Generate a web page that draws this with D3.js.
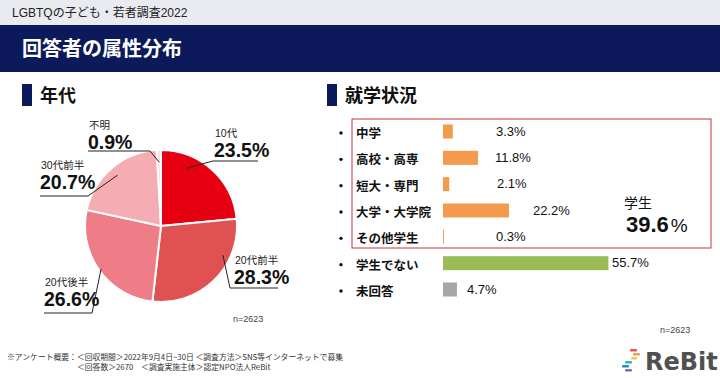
<!DOCTYPE html>
<html><head><meta charset="utf-8">
<script src="https://cdn.jsdelivr.net/npm/d3@7"></script>
<style>
html,body{margin:0;padding:0;background:#fff;}
svg{display:block;font-family:"Liberation Sans","Noto Sans CJK JP",sans-serif;}
</style></head>
<body>
<svg id="c" width="720" height="378"></svg>
<script>
// ---------- data ----------
const ageCategories = ["10代", "20代前半", "20代後半", "30代前半", "不明"];
const ageValues = [23.5, 28.3, 26.6, 20.7, 0.9];
const ageColors = ["#e60012", "#e05252", "#ef7d88", "#f5adb3", "#f9e0e1"];

const schoolCategories = ["中学", "高校・高専", "短大・専門", "大学・大学院", "その他学生", "学生でない", "未回答"];
const schoolValues = [3.3, 11.8, 2.1, 22.2, 0.3, 55.7, 4.7];
const schoolGroups = ["student", "student", "student", "student", "student", "non", "na"];
const groupColors = {student: "#f39a4c", non: "#9bbb59", na: "#a6a6a6"};
const studentTotal = 39.6;
const sampleN = 2623;

// ---------- layout ----------
const svg = d3.select("#c");
const CJK = "'Noto Sans CJK JP',sans-serif";

// header bands
svg.append("rect").attr("x",0).attr("y",0).attr("width",720).attr("height",25).attr("fill","#e9ebf0");
svg.append("text").attr("x",12).attr("y",17).attr("font-size",12).attr("fill","#222")
  .style("font-family","'Liberation Sans','Noto Sans CJK JP',sans-serif").text("LGBTQの子ども・若者調査2022");
svg.append("rect").attr("x",0).attr("y",25).attr("width",720).attr("height",47).attr("fill","#0c1a5b");
svg.append("text").attr("x",22).attr("y",56).attr("font-size",20).attr("font-weight","bold").attr("fill","#fff")
  .style("font-family",CJK).text("回答者の属性分布");

// section headers
function section(x, label){
  svg.append("rect").attr("x",x).attr("y",84).attr("width",10).attr("height",22).attr("fill","#0c1a5b");
  svg.append("text").attr("x",x+18).attr("y",102).attr("font-size",18).attr("font-weight","bold").attr("fill","#111")
    .style("font-family",CJK).text(label);
}
section(22, "年代");
section(327, "就学状況");

// ---------- pie ----------
const cx = 161, cy = 226, R = 76;
const pie = d3.pie().sort(null).value(d => d)(ageValues);
const arc = d3.arc().innerRadius(0).outerRadius(R);
const g = svg.append("g").attr("transform", `translate(${cx},${cy})`);
g.selectAll("path").data(pie).join("path")
  .attr("d", arc).attr("fill", (d,i) => ageColors[i])
  .attr("stroke", "#fff").attr("stroke-width", 2);

const ageLabelLayout = [
  {x:214, y:157, ul:[213,258], side:"left",  frac:0.28, rf:0.83, du:4},
  {x:234, y:284, ul:[230,278], side:"left",  frac:0.30, rf:0.90, du:4},
  {x:44,  y:306, ul:[44,92],   side:"right", frac:0.50, rf:0.97, du:7},
  {x:40,  y:189, ul:[40,88],   side:"right", frac:0.50, rf:0.88, du:7},
  {x:88,  y:149, ul:[88,150],  side:"right", frac:0.50, rf:0.84, du:2}
];
pie.forEach((d,i) => {
  const L = ageLabelLayout[i];
  const a = d.startAngle + (d.endAngle - d.startAngle) * L.frac;
  const px = cx + Math.sin(a) * R * L.rf, py = cy - Math.cos(a) * R * L.rf;
  const uy = L.y + L.du;
  const ux = L.side === "left" ? L.ul[0] : L.ul[1];
  svg.append("line").attr("x1",L.ul[0]).attr("x2",L.ul[1]).attr("y1",uy).attr("y2",uy)
    .attr("stroke","#222").attr("stroke-width",1);
  svg.append("line").attr("x1",ux).attr("y1",uy).attr("x2",px).attr("y2",py)
    .attr("stroke","#222").attr("stroke-width",1);
  svg.append("text").attr("x",L.x+1).attr("y",L.y-20).attr("font-size",10.5).attr("fill","#222")
    .style("font-family","'Liberation Sans','Noto Sans CJK JP',sans-serif").text(ageCategories[i]);
  svg.append("text").attr("x",L.x).attr("y",L.y).attr("font-size",19.5).attr("font-weight","bold").attr("fill","#111")
    .text(d3.format(".1f")(ageValues[i]) + "%");
});
svg.append("text").attr("x",233).attr("y",322).attr("font-size",9).attr("fill","#444").text("n=" + sampleN);

// ---------- bars ----------
const x = d3.scaleLinear().domain([0, 100]).range([443, 740]);
const y = d3.scalePoint().domain(schoolCategories).range([131.5, 289.5]);
const barH = 14;
const valueLabelX = [496, 495, 497, 533, 496, 612, 467];

svg.append("rect").attr("x",352).attr("y",119).attr("width",359).attr("height",129)
  .attr("fill","none").attr("stroke","#c8323c").attr("stroke-width",1);

const rows = svg.append("g").selectAll("g").data(schoolCategories).join("g");
rows.append("circle").attr("cx",341).attr("cy",c => y(c)+1.5).attr("r",1.7).attr("fill","#111");
rows.append("text").attr("x",356).attr("y",c => y(c)+6.5).attr("font-size",12.5).attr("font-weight","bold")
  .attr("fill","#111").style("font-family",CJK).text(c => c);
rows.append("rect").attr("x",x(0)).attr("y",c => y(c)-barH/2)
  .attr("width",(c,i) => Math.max(0.9, x(schoolValues[i]) - x(0))).attr("height",barH)
  .attr("fill",(c,i) => groupColors[schoolGroups[i]]);
rows.append("text").attr("x",(c,i) => valueLabelX[i]).attr("y",c => y(c)+4).attr("font-size",13)
  .attr("fill","#111").text((c,i) => d3.format(".1f")(schoolValues[i]) + "%");

svg.append("text").attr("x",624).attr("y",208).attr("font-size",14).attr("fill","#111")
  .style("font-family",CJK).text("学生");
const tot = svg.append("text").attr("x",626).attr("y",232).attr("fill","#111");
tot.append("tspan").attr("font-size",22).attr("font-weight","bold").text(d3.format(".1f")(studentTotal));
tot.append("tspan").attr("font-size",19).attr("dx",2).text("%");

svg.append("text").attr("x",660).attr("y",333).attr("font-size",9).attr("fill","#444").text("n=" + sampleN);

// footnote
svg.append("text").attr("x",7).attr("y",360).attr("font-size",7.8).attr("fill","#333")
  .style("font-family",CJK).text("※アンケート概要：＜回収期間＞2022年9月4日~30日 ＜調査方法＞SNS等インターネットで募集");
svg.append("text").attr("x",77).attr("y",370).attr("font-size",7.8).attr("fill","#333")
  .style("font-family",CJK).text("＜回答数＞2670　＜調査実施主体＞認定NPO法人ReBit");

// logo
const logo = svg.append("g");
[["#e8505b",630,349,7],["#f39a4c",633,353,7],["#f6c945",631,357,6],["#3bb3b0",625,361,7],["#2b8ac6",622,365,7],["#7b6bb0",625,369,7]]
  .forEach(s => logo.append("rect").attr("x",s[1]).attr("y",s[2]).attr("width",s[3]).attr("height",2.6).attr("rx",1.2).attr("fill",s[0]));
logo.append("text").attr("x",645).attr("y",370).attr("font-size",24).attr("font-weight","bold").attr("fill","#505050")
  .style("font-family","'DejaVu Sans',sans-serif").text("ReBit");
</script>
</body></html>
